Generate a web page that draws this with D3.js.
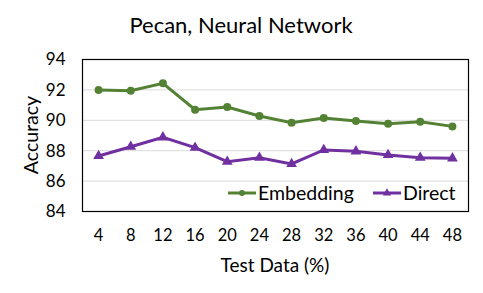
<!DOCTYPE html>
<html>
<head>
<meta charset="utf-8">
<script src="https://cdn.jsdelivr.net/npm/d3@7"></script>
<style>
  body { margin: 0; background: #fff; }
  text { font-family: Lato, "Open Sans", sans-serif; fill: #000; }
</style>
</head>
<body>
<svg id="chart"></svg>
<script>
const testData = [4, 8, 12, 16, 20, 24, 28, 32, 36, 40, 44, 48];
const embedding = [92.0, 91.95, 92.43, 90.7, 90.87, 90.28, 89.84, 90.15, 89.95, 89.78, 89.9, 89.6];
const direct = [87.65, 88.26, 88.88, 88.2, 87.28, 87.54, 87.13, 88.05, 87.96, 87.72, 87.54, 87.5];
const yTicks = [84, 86, 88, 90, 92, 94];

const width = 483, height = 293;
const margin = {top: 59.5, right: 14.5, bottom: 81.5, left: 82.5};
const green = "#548235", purple = "#7030a0";

const svg = d3.select("#chart").attr("width", width).attr("height", height);

const x = d3.scaleBand()
  .domain(testData)
  .range([margin.left, width - margin.right]);
const y = d3.scaleLinear()
  .domain([84, 94])
  .range([height - margin.bottom, margin.top]);

// gridlines
svg.append("g")
  .selectAll("line")
  .data(yTicks)
  .join("line")
    .attr("x1", margin.left)
    .attr("x2", width - margin.right)
    .attr("y1", d => y(d))
    .attr("y2", d => y(d))
    .attr("stroke", "#d9d9d9")
    .attr("stroke-width", 1);

// plot border
svg.append("rect")
  .attr("x", margin.left)
  .attr("y", margin.top)
  .attr("width", width - margin.left - margin.right)
  .attr("height", height - margin.top - margin.bottom)
  .attr("fill", "none")
  .attr("stroke", "#000")
  .attr("stroke-width", 1.2);

// axes (labels only)
const yAxis = svg.append("g")
  .attr("transform", `translate(${margin.left},0)`)
  .call(d3.axisLeft(y).tickValues(yTicks).tickSize(0).tickPadding(17));
yAxis.select(".domain").remove();
yAxis.selectAll("text").style("font-size", "17px").style("font-family", "Lato, sans-serif");

const xAxis = svg.append("g")
  .attr("transform", `translate(0,${height - margin.bottom})`)
  .call(d3.axisBottom(x).tickSize(0).tickPadding(18));
xAxis.select(".domain").remove();
xAxis.selectAll("text").style("font-size", "16.5px").style("font-family", "Lato, sans-serif");

// series
const line = d3.line()
  .x((d, i) => x(testData[i]) + x.bandwidth() / 2)
  .y(d => y(d));

svg.append("path")
  .datum(embedding)
  .attr("d", line)
  .attr("fill", "none")
  .attr("stroke", green)
  .attr("stroke-width", 3);

svg.append("path")
  .datum(direct)
  .attr("d", line)
  .attr("fill", "none")
  .attr("stroke", purple)
  .attr("stroke-width", 3);

svg.append("g")
  .selectAll("circle")
  .data(embedding)
  .join("circle")
    .attr("cx", (d, i) => x(testData[i]) + x.bandwidth() / 2)
    .attr("cy", d => y(d))
    .attr("r", 4)
    .attr("fill", green);

const tri = d3.symbol().type(d3.symbolTriangle).size(50);
svg.append("g")
  .selectAll("path")
  .data(direct)
  .join("path")
    .attr("d", tri)
    .attr("transform", (d, i) => `translate(${x(testData[i]) + x.bandwidth() / 2},${y(d)})`)
    .attr("fill", purple);

// legend
const legend = [
  {name: "Embedding", color: green, x0: 228, shape: "circle"},
  {name: "Direct", color: purple, x0: 373, shape: "triangle"}
];
const lg = svg.append("g")
  .selectAll("g")
  .data(legend)
  .join("g")
    .attr("transform", d => `translate(${d.x0},193)`);
lg.append("line")
  .attr("x1", 0).attr("x2", 28)
  .attr("stroke", d => d.color)
  .attr("stroke-width", 3);
lg.filter(d => d.shape === "circle").append("circle")
  .attr("cx", 14).attr("r", 3)
  .attr("fill", d => d.color);
lg.filter(d => d.shape === "triangle").append("path")
  .attr("d", d3.symbol().type(d3.symbolTriangle).size(30))
  .attr("transform", "translate(14,0)")
  .attr("fill", d => d.color);
lg.append("text")
  .attr("x", 30)
  .attr("dy", "0.35em")
  .style("font-size", "19.5px")
  .text(d => d.name);

// titles
svg.append("text")
  .attr("x", 241)
  .attr("y", 33)
  .attr("text-anchor", "middle")
  .style("font-size", "22px")
  .text("Pecan, Neural Network");

svg.append("text")
  .attr("x", 275)
  .attr("y", 272)
  .attr("text-anchor", "middle")
  .style("font-size", "19px")
  .text("Test Data (%)");

svg.append("text")
  .attr("transform", "translate(38,135) rotate(-90)")
  .attr("text-anchor", "middle")
  .style("font-size", "19.5px")
  .text("Accuracy");
</script>
</body>
</html>
